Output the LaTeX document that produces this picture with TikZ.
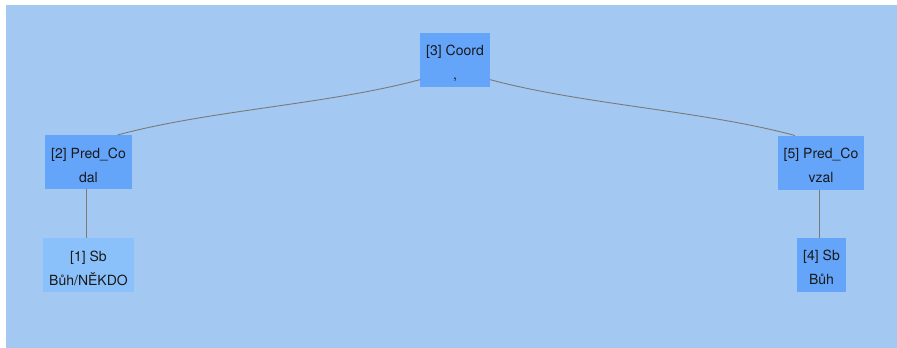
\documentclass[tikz,border=0pt]{standalone}
\usepackage{fontspec}
\setmainfont{TeX Gyre Heros}
\usepackage{tikz}
\definecolor{panel}{HTML}{A3C8F1}
\definecolor{boxblue}{HTML}{64A5FA}
\definecolor{leafblue}{HTML}{8AC1FB}
\definecolor{edgegray}{HTML}{7A7A7A}
% two text lines, a strut on each so all boxes sit alike
\newcommand{\twoline}[2]{\rule{0pt}{18pt}#1\\#2\rule[-2pt]{0pt}{2pt}}

\begin{document}
\begin{tikzpicture}[x=1pt,y=-1pt]

\tikzset{word/.style = {rectangle, fill=boxblue, align=center, inner xsep=6pt, inner ysep=0pt,
  outer sep=0pt, minimum height=54pt, text=black!90,
  font=\fontsize{14}{24}\selectfont}}
\tikzset{leaf/.style = {word, fill=leafblue}}
\tikzset{edge/.style = {draw=edgegray, line width=0.9pt}}
\useasboundingbox (0,0) rectangle (897,348);
\fill[panel] (6,5) rectangle (897,348);
%\draw[help lines,step=50] (0,0) grid (897,348);
\node[word] (c) at (455,59.5) {\twoline{[3] Coord}{,}};
\node[word] (p2) at (88.5,162) {\twoline{[2] Pred\_Co}{dal}};
\node[leaf] (s1) at (88.5,265) {\twoline{[1] Sb}{Bůh/NĚKDO}};
\node[word] (p5) at (821,162.5) {\twoline{[5] Pred\_Co}{vzal}};
\node[word] (s4) at (821.5,264.5) {\twoline{[4] Sb}{Bůh}};

\draw[edge] (c.210) .. controls +(-93,25) and +(93,-25) .. (p2.43);
\draw[edge] (c.330) .. controls +(93,25) and +(-93,-25) .. (p5.134);
\draw[edge] ([xshift=-2pt]p2.south) -- ([xshift=-2pt]p2.south |- s1.north);
\draw[edge] ([xshift=-2pt]p5.south) -- ([xshift=-2pt]p5.south |- s4.north);
\end{tikzpicture}
\end{document}
